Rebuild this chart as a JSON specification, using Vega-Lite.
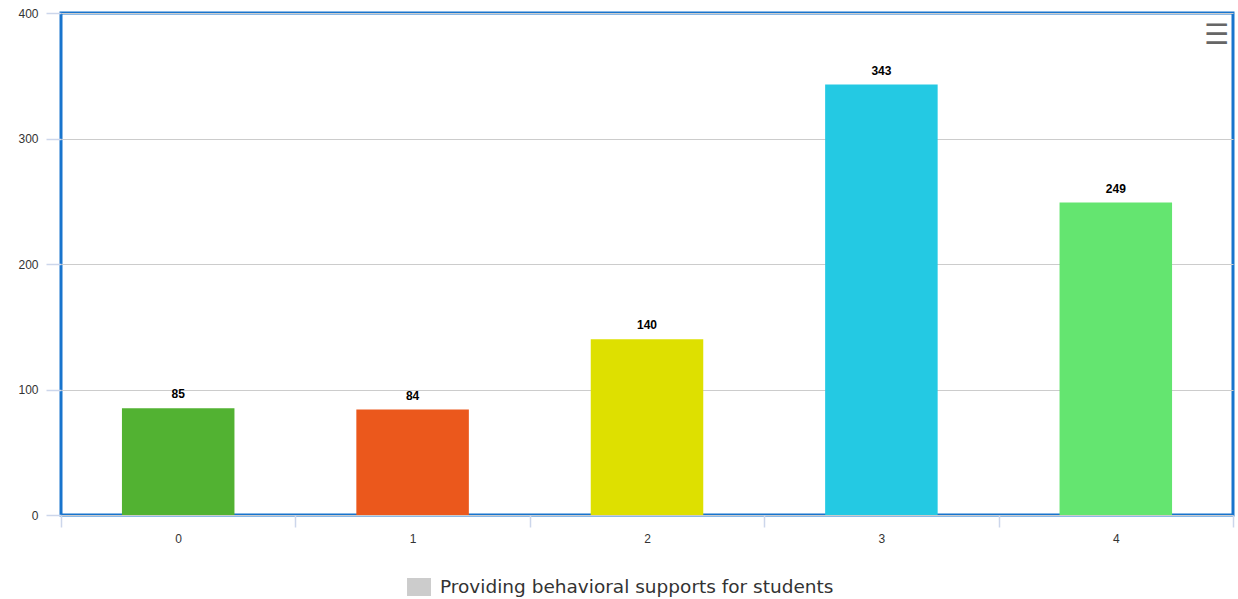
{
  "$schema": "https://vega.github.io/schema/vega-lite/v6.json",
  "width": 1172,
  "height": 502,
  "autosize": {"type": "none"},
  "padding": {"left": 61, "top": 13, "right": 5, "bottom": 84},
  "background": "#ffffff",
  "config": {
    "view": {"stroke": "#1874cd", "strokeWidth": 3},
    "font": "Liberation Sans"
  },
  "title": {
    "text": "☰",
    "orient": "top",
    "anchor": "end",
    "frame": "group",
    "baseline": "top",
    "font": "DejaVu Sans",
    "fontSize": 28,
    "fontWeight": "bold",
    "color": "#666666",
    "offset": -43,
    "dx": -4
  },
  "data": {
    "values": [
      {"score": "0", "count": 85, "series": "Providing behavioral supports for students"},
      {"score": "1", "count": 84, "series": "Providing behavioral supports for students"},
      {"score": "2", "count": 140, "series": "Providing behavioral supports for students"},
      {"score": "3", "count": 343, "series": "Providing behavioral supports for students"},
      {"score": "4", "count": 249, "series": "Providing behavioral supports for students"}
    ]
  },
  "encoding": {
    "x": {
      "field": "score",
      "type": "ordinal",
      "sort": null,
      "scale": {"paddingInner": 0, "paddingOuter": 0},
      "axis": {
        "title": null,
        "labelAngle": 0,
        "labelFontSize": 12,
        "labelColor": "#333333",
        "labelPadding": 6,
        "tickBand": "extent",
        "tickSize": 12,
        "tickColor": "#ccd6eb",
        "tickWidth": 1.5,
        "domain": false,
        "grid": false
      }
    },
    "y": {
      "field": "count",
      "type": "quantitative",
      "scale": {"domain": [0, 400], "nice": false},
      "axis": {
        "title": null,
        "values": [0, 100, 200, 300, 400],
        "labelFontSize": 12,
        "labelColor": "#333333",
        "labelPadding": 8,
        "tickSize": 15,
        "tickColor": "#ccd6eb",
        "tickWidth": 1.5,
        "domain": false,
        "grid": true,
        "gridColor": "#cccccc",
        "gridWidth": 1.2
      }
    }
  },
  "layer": [
    {
      "mark": {"type": "bar", "strokeWidth": 0, "width": {"band": 0.48}},
      "encoding": {
        "fill": {
          "field": "score",
          "type": "ordinal",
          "scale": {"range": ["#52b232", "#eb581c", "#dee000", "#24c9e3", "#64e570"]},
          "legend": null
        },
        "stroke": {
          "field": "series",
          "type": "nominal",
          "scale": {"range": ["#cccccc"]},
          "legend": {
            "title": null,
            "orient": "none",
            "legendX": 340,
            "legendY": 556,
            "symbolType": "M-1.33,0H1.33",
            "symbolSize": 324,
            "symbolStrokeWidth": 18,
            "labelFontSize": 18.5,
            "labelFont": "DejaVu Sans",
            "labelColor": "#333333",
            "labelOffset": 3,
            "labelLimit": 0
          }
        }
      }
    },
    {
      "mark": {"type": "text", "baseline": "alphabetic", "dy": -10, "fontWeight": "bold", "fontSize": 12, "color": "#000000"},
      "encoding": {
        "text": {"field": "count", "type": "quantitative"}
      }
    }
  ]
}
